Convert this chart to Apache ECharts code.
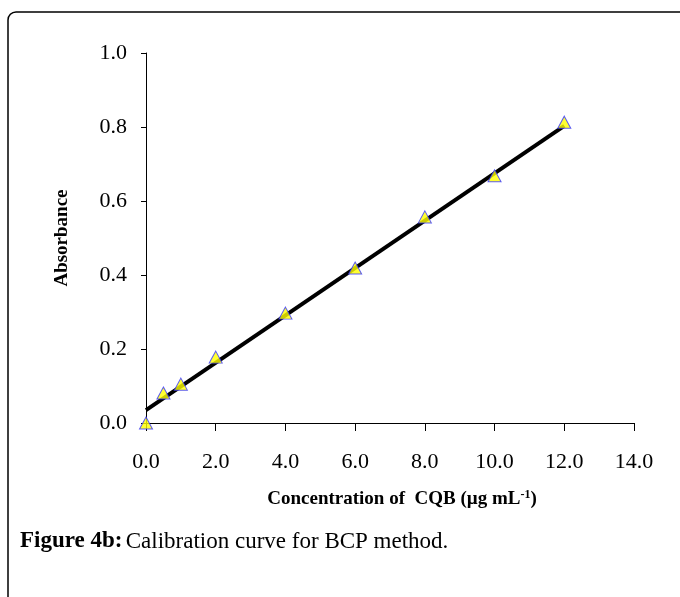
<!DOCTYPE html>
<html>
<head>
<meta charset="utf-8">
<script src="https://cdn.jsdelivr.net/npm/echarts@6/dist/echarts.min.js"></script>
<style>
  html, body { margin: 0; padding: 0; background: #fff; }
  #main { width: 680px; height: 597px; }
</style>
</head>
<body>
<div id="main"></div>
<script>
// calibration data (concentration vs absorbance)
const concentration = [0, 0.5, 1, 2, 4, 6, 8, 10, 12]
const absorbance = [0.0, 0.081, 0.105, 0.178, 0.297, 0.419, 0.557, 0.668, 0.813]
// fitted line end points
const fitX = [0, 12]
const fitY = [0.035, 0.803]

const serif = '"Liberation Serif", "DejaVu Serif", serif'

let myChart = echarts.init(document.getElementById('main'))

let options = {
  animation: false,
  grid: {
    left: 146,
    right: 46,
    top: 53,
    bottom: 174
  },
  xAxis: {
    type: 'value',
    min: 0,
    max: 14,
    interval: 2,
    name: '{b|Concentration of  CQB (\u00b5g mL}{s|-1}{b|)}',
    nameLocation: 'middle',
    nameGap: 66,
    nameTextStyle: {
      padding: [0, 0, 0, 24],
      rich: {
        b: { fontFamily: serif, fontWeight: 'bold', fontSize: 19, color: '#000' },
        s: { fontFamily: serif, fontWeight: 'bold', fontSize: 12, color: '#000', verticalAlign: 'top', padding: [0, 0, 8, 0] }
      }
    },
    axisLine: { lineStyle: { color: '#000', width: 1 } },
    axisTick: { inside: false, length: 8, lineStyle: { color: '#000' } },
    axisLabel: {
      margin: 28,
      fontFamily: serif,
      fontSize: 22,
      color: '#000',
      formatter: v => v.toFixed(1)
    },
    splitLine: { show: false }
  },
  yAxis: {
    type: 'value',
    min: 0,
    max: 1,
    interval: 0.2,
    name: 'Absorbance',
    nameLocation: 'middle',
    nameGap: 74,
    nameTextStyle: { fontFamily: serif, fontWeight: 'bold', fontSize: 19, color: '#000' },
    axisLine: { show: true, lineStyle: { color: '#000', width: 1 } },
    axisTick: { show: true, length: 5, lineStyle: { color: '#000' } },
    axisLabel: {
      margin: 19,
      fontFamily: serif,
      fontSize: 22,
      color: '#000',
      formatter: v => v.toFixed(1)
    },
    splitLine: { show: false }
  },
  graphic: [
    {
      type: 'rect',
      shape: { x: 8, y: 12, width: 720, height: 640, r: 8 },
      style: { fill: 'none', stroke: '#000', lineWidth: 1.5 },
      z: -1
    },
    {
      type: 'text',
      left: 20,
      top: 530,
      style: {
        text: '{b|Figure 4b:} {n|Calibration curve for BCP method.}',
        rich: {
          b: { fontFamily: serif, fontWeight: 'bold', fontSize: 23, fill: '#000' },
          n: { fontFamily: serif, fontSize: 23, fill: '#000' }
        }
      }
    }
  ],
  series: [
    {
      name: 'fit',
      type: 'line',
      data: fitX.map((x, i) => [x, fitY[i]]),
      symbol: 'none',
      lineStyle: { color: '#000', width: 4 },
      z: 2
    },
    {
      name: 'absorbance',
      type: 'scatter',
      data: concentration.map((x, i) => [x, absorbance[i]]),
      symbol: 'triangle',
      symbolSize: [13, 12],
      itemStyle: { color: '#ffff00', borderColor: '#3333ff', borderWidth: 1 },
      z: 3
    }
  ]
}

myChart.setOption(options)
</script>
</body>
</html>
